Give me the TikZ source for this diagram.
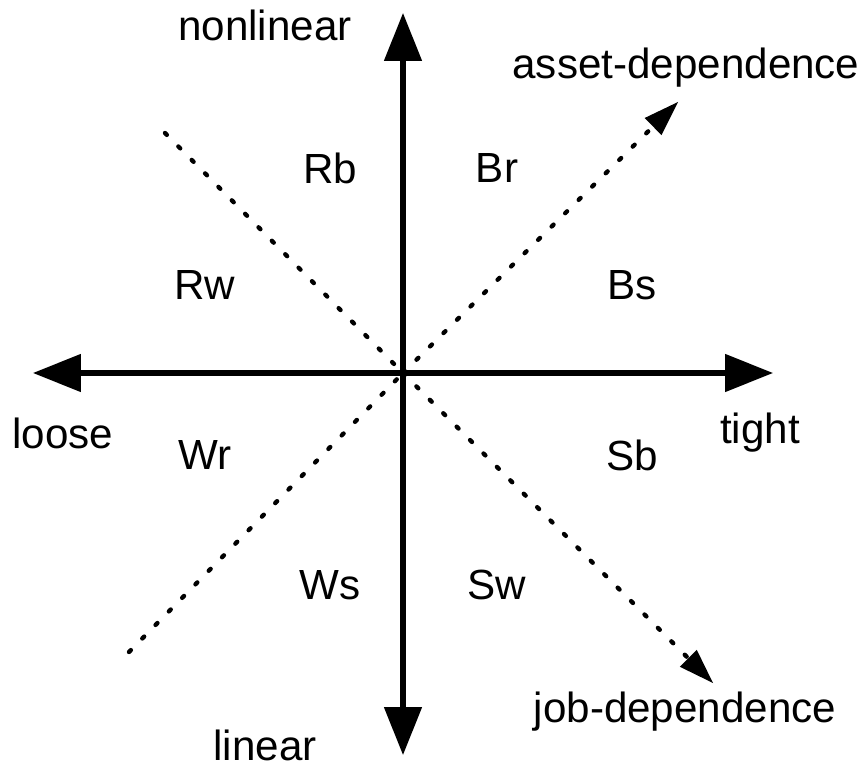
\documentclass[tikz,border=0pt]{standalone}
\usepackage{fontspec}
\setmainfont{Liberation Sans}
\usetikzlibrary{arrows.meta}
\begin{document}
\begin{tikzpicture}[x=0.02cm,y=-0.02cm,
    every node/.style={font=\fontsize{24}{28}\selectfont,inner sep=0pt},
    axis/.style={line width=2.85pt,-{Triangle[length=0.96cm,width=0.74cm]}},
    dep/.style={line width=2.5pt,dash pattern=on 1.5pt off 9.3pt,line cap=round},
    deparrow/.style={dep,-{Triangle[length=0.7cm,width=0.48cm,line cap=butt,line width=0pt,sep=0pt]}}]
      \useasboundingbox (0,0) rectangle (867,767);
      \coordinate (o) at (403,373);
      \coordinate (n) at (403,13);
      \coordinate (s) at (403,755);
      \coordinate (w) at (33,373);
      \coordinate (e) at (773,373);
      \coordinate (nw) at (165,133);
      \coordinate (sw) at (129,652);
      \coordinate (ne) at (678,102);
      \coordinate (se) at (713,683);
      % dotted diagonals
      \draw[dep] (nw) -- (o);
      \draw[dep] (sw) -- (o);
      \draw[deparrow] (o) -- (ne);
      \draw[deparrow] (o) -- (se);
      % axes
      \draw[axis] (o) -- (n);
      \draw[axis] (o) -- (s);
      \draw[axis] (o) -- (w);
      \draw[axis] (o) -- (e);
      % labels
      \draw
        (265,25) node (nonlinear){nonlinear}
        (265,745) node (linear){linear}
        (63,433) node (loose){loose}
        (760,433) node (tight){tight}
        (686,68) node (asset){asset-dependence}
        (685,712) node (job){job-dependence}
        (330,168) node (Rb){Rb}
        (497,168) node (Br){Br}
        (205,285) node (Rw){Rw}
        (632,285) node (Bs){Bs}
        (205,455) node (Wr){Wr}
        (632,455) node (Sb){Sb}
        (330,585) node (Ws){Ws}
        (497,585) node (Sw){Sw};
    \end{tikzpicture}
\end{document}
